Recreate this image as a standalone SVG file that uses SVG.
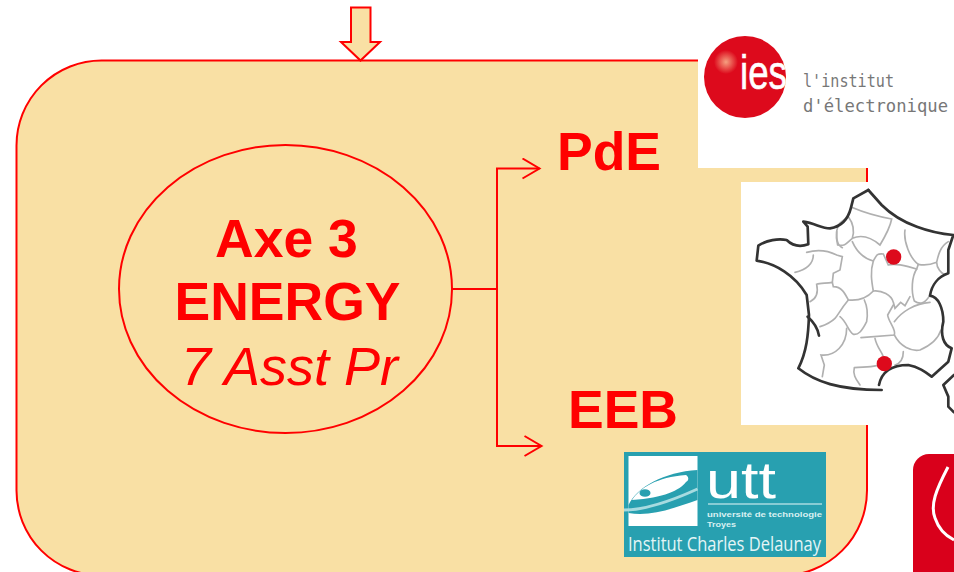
<svg xmlns="http://www.w3.org/2000/svg" width="954" height="572" viewBox="0 0 954 572">
<style>
.sys{font-family:"Liberation Sans",Arial,sans-serif}
.big{font-size:53.500px;font-weight:700;fill:#ff0000}
.ln{fill:none;stroke:#ff0000;stroke-width:2}
.coast{fill:none;stroke:#333;stroke-width:8;stroke-linejoin:round;stroke-linecap:round}
.reg{fill:none;stroke:#b0b0b0;stroke-width:5;stroke-linecap:round}
.iesw{font-family:"DejaVu Sans Mono","Liberation Mono",monospace;font-size:18px;fill:#777}
</style>
<defs>
<marker id="open" markerUnits="userSpaceOnUse" markerWidth="20" markerHeight="24" refX="18" refY="11" orient="auto">
<path d="M1 1L18 11L1 21" fill="none" stroke="#ff0000" stroke-width="2"/>
</marker>
<radialGradient id="glow"><stop offset="0" stop-color="#f6a080"/><stop offset="1" stop-color="#dd0a1c"/></radialGradient>
</defs>
<rect width="954" height="572" fill="#fff"/>
<g id="panel"><rect x="16.500" y="60.500" width="850.500" height="515" rx="85" ry="85" fill="#f9e0a4" stroke="#ff0000" stroke-width="2"/></g>
<g id="input-arrow"><path d="M351 7.500H370.500V42H380L360.500 60.500L341 42H351Z" fill="#f9e0a4" stroke="#ff0000" stroke-width="2"/></g>
<g id="connectors">
<path class="ln" d="M452 289H497"/>
<path class="ln" d="M497 289V168.500H539.500" marker-end="url(#open)"/>
<path class="ln" d="M497 289V446H541.500" marker-end="url(#open)"/>
</g>
<g id="axe3">
<ellipse cx="285.500" cy="289" rx="166.500" ry="144" fill="#f9e0a4" stroke="#ff0000" stroke-width="2"/>
<text class="sys big" x="286.500" y="257" text-anchor="middle">Axe 3</text>
<text class="sys big" x="287.500" y="320" text-anchor="middle">ENERGY</text>
<text class="sys" x="181" y="385" font-size="54" font-style="italic" fill="#ff0000">7 Asst Pr</text>
</g>
<g id="pde"><text class="sys big" x="557" y="170">PdE</text></g>
<g id="eeb"><text class="sys big" x="568" y="428">EEB</text></g>
<g id="logo-ies">
<rect x="698" y="0" width="256" height="168" fill="#fff"/>
<circle cx="745" cy="77" r="41" fill="#dd0a1c"/>
<circle cx="726" cy="62" r="12" fill="url(#glow)"/>
<text class="sys" x="740" y="89" font-size="48" fill="#fff" stroke="#fff" stroke-width=".6" textLength="47" lengthAdjust="spacingAndGlyphs">ies</text>
<text class="iesw" x="803" y="87" textLength="91" lengthAdjust="spacingAndGlyphs">l'institut</text>
<text class="iesw" x="803" y="112" textLength="145" lengthAdjust="spacingAndGlyphs">d'électronique</text>
</g>
<g id="map">
<rect x="741" y="182" width="213" height="243" fill="#fff"/>
<g transform="translate(735 175) scale(.3333)">
<path class="reg" d="M350 97C385 112 430 125 470 132C465 160 450 185 435 210C400 180 375 180 352 190C335 205 330 215 308 210C300 180 305 150 320 140L340 125C355 145 358 170 352 190"/>
<path class="reg" d="M352 200C365 230 385 250 415 258C425 240 425 235 445 237L460 270C480 265 500 270 520 275L545 282L550 268C525 250 505 200 510 165"/>
<path class="reg" d="M550 268C570 272 590 268 605 262C610 240 615 215 640 200M605 262C605 280 620 295 628 298"/>
<path class="reg" d="M545 282C530 305 528 350 538 378C555 390 570 385 582 365"/>
<path class="reg" d="M415 258C405 290 410 320 415 348C440 345 470 360 475 382L480 400L497 382L510 392L525 365"/>
<path class="reg" d="M415 348C395 370 370 378 340 375C330 355 320 335 295 335L292 322C270 325 255 325 245 328C250 350 245 370 225 380"/>
<path class="reg" d="M215 232C240 225 275 225 305 240L322 245L315 285L295 295L292 322"/>
<path class="reg" d="M235 240C235 265 215 285 180 292M305 170C305 190 305 210 322 218"/>
<path class="reg" d="M340 375C315 405 310 420 300 430C285 445 270 450 255 455M315 425C335 440 340 470 355 478C370 480 380 470 395 440C400 410 395 390 388 375"/>
<path class="reg" d="M378 488L478 480C485 465 460 440 458 420L475 390"/>
<path class="reg" d="M478 440C500 410 540 385 585 382M478 480C495 515 530 530 555 525C590 510 610 490 618 465"/>
<path class="reg" d="M335 460C335 510 300 545 258 540L268 570L262 605M420 490C425 515 440 530 445 545M505 530C505 550 495 565 480 570"/>
<path class="reg" d="M425 572C400 578 380 575 358 578C352 600 365 615 375 630"/>
<path class="coast" d="M400 45L355 70L348 98C340 130 320 155 285 160C260 160 240 145 205 140L218 155L220 208C200 215 175 215 155 195C130 190 95 195 70 212L65 257C120 265 180 300 215 360L222 420C220 480 215 530 190 580C240 620 310 645 440 645"/>
<path class="coast" d="M432 630C440 590 470 570 520 570C550 575 570 590 590 605L640 560L650 520C625 510 615 480 625 440C625 400 610 365 585 362C590 330 610 305 640 295L640 225L655 180C590 175 500 150 440 90L400 45"/>
<path class="coast" d="M218 425C235 440 248 455 252 482M657 600L625 630L640 665L640 695L657 712"/>
<circle cx="476" cy="246" r="23" fill="#dd0a1c"/>
<circle cx="448" cy="566" r="23" fill="#dd0a1c"/>
</g>
</g>
<g id="logo-utt">
<rect x="624" y="452" width="202" height="105" fill="#28a0b0"/>
<rect x="628.500" y="456" width="69" height="70" fill="#fff"/>
<path d="M628.500 505C637 487 664 472 697.500 470V500C674 508 651 517 628.500 513Z" fill="#28a0b0"/>
<path d="M632 500C640 488 657 477 686 475C690 478 688 481 686 482C680 490 664 498 632 500Z" fill="#fff"/>
<ellipse cx="645" cy="493" rx="5.500" ry="3.800" fill="#28a0b0"/>
<path d="M624 510C650 510 680 497 697.500 489" fill="none" stroke="#a7dbe0" stroke-width="3"/>
<text class="sys" x="706" y="498" font-size="52" fill="#fff" textLength="70" lengthAdjust="spacingAndGlyphs">utt</text>
<path d="M708 504H822" stroke="#a7dbe0" stroke-width="1.500"/>
<text class="sys" x="707" y="517" font-size="7.500" font-weight="700" fill="#d8f0f2" textLength="115" lengthAdjust="spacingAndGlyphs">université de technologie</text>
<text class="sys" x="707" y="527" font-size="7.500" font-weight="700" fill="#d8f0f2" textLength="29" lengthAdjust="spacingAndGlyphs">Troyes</text>
<text x="628" y="551" font-size="20" fill="#e4f5f6" textLength="193" lengthAdjust="spacingAndGlyphs" style="font-family:'Open Sans','Liberation Sans',sans-serif">Institut Charles Delaunay</text>
</g>
<g id="logo-red">
<rect x="913" y="454" width="80" height="140" rx="16" fill="#d9001b"/>
<path d="M948 467C936 490 930 505 935 518C939 530 948 537 954 540" fill="none" stroke="#fff" stroke-width="3"/>
</g>
</svg>
